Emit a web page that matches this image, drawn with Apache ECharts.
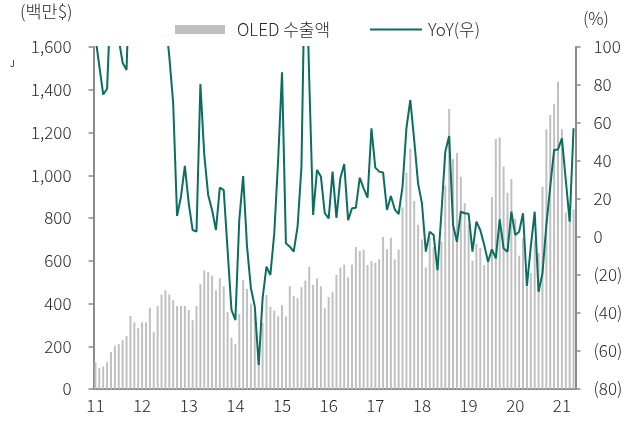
<!DOCTYPE html>
<html>
<head>
<meta charset="utf-8">
<script src="https://cdn.jsdelivr.net/npm/echarts@6/dist/echarts.min.js"></script>
<style>
html,body{margin:0;padding:0;background:#ffffff;}
#chart{width:638px;height:423px;}
</style>
</head>
<body>
<div id="chart"></div>
<script>
// ---- data (monthly, 2011.01 – 2021.04) ----
const startYear = 2011;
const monthCount = 124;
const categories = [];
for (let k = 0; k < monthCount; k++) {
  const y = startYear + Math.floor(k / 12);
  const m = (k % 12) + 1;
  categories.push(String(y).slice(2) + '.' + (m < 10 ? '0' + m : m));
}

// OLED export value (USD mn)
const exportValues = [
  125, 98, 106, 125, 172, 202, 210, 228, 248, 342, 312, 285,      // 2011
  312, 312, 380, 266, 388, 442, 462, 442, 416, 388, 388, 388,     // 2012
  369, 322, 388, 490, 555, 546, 530, 462, 518, 480, 360, 240,     // 2013
  210, 351, 510, 468, 400, 350, 175, 310, 440, 385, 367, 340,     // 2014
  392, 340, 482, 435, 425, 476, 507, 572, 487, 517, 480, 378,     // 2015
  430, 453, 534, 568, 582, 522, 582, 664, 645, 652, 580, 598,     // 2016
  591, 607, 711, 654, 708, 606, 653, 850, 1012, 1125, 880, 768,   // 2017
  700, 568, 710, 664, 605, 690, 952, 1310, 1076, 1104, 993, 869,  // 2018
  770, 600, 680, 660, 580, 608, 898, 1170, 1177, 1040, 918, 982,  // 2019
  797, 624, 705, 480, 543, 694, 637, 946, 1215, 1282, 1334, 1437, // 2020
  1215, 825, 810, 840                                             // 2021
];

// YoY growth (%), right axis
const yoyValues = [
  105, 90, 75, 78, 130, 120, 104, 91.7, 87.9, 150, 140, 130,
  150, 218, 258, 113, 126, 119, 115, 95, 70.4, 11.1, 21.2, 37.4,
  17.7, 3.7, 2.8, 80.5, 43.2, 22.1, 14.2, 3.7, 26, 24.7, -7, -38.4,
  -43.7, 8.9, 32.1, -5.1, -27, -36.7, -67.4, -32.3, -15.6, -20, 1.9, 40.5,
  86.7, -3.3, -5.1, -7.7, 5.4, 37, 160, 83, 11.6, 35.3, 31.8, 12.5,
  9.8, 34.4, 10.1, 30.9, 38.4, 8.9, 15.1, 15.4, 31.2, 25.6, 20.7, 57.2,
  36.5, 34.4, 34, 14.2, 21.6, 14.6, 12.1, 26.5, 57.2, 72.1, 51.1, 28.2,
  17.7, -7.7, 2.8, 1.1, -17.4, 12.5, 44.9, 53.2, 6.3, -2.5, 13.3, 12.5,
  12.2, -7.7, 8.1, 3.7, -4, -13, -6.5, -11.2, 9.3, -6, -7.7, 13.3,
  1.1, 2.8, 12.5, -25.8, -5.1, 13.3, -28.8, -19.1, 6.3, 26.5, 45.8, 46.1,
  51.9, 30, 8.1, 57.2
];

const xTickLabels = ['11','12','13','14','15','16','17','18','19','20','21'];
const seriesNames = ['OLED 수출액', 'YoY(우)'];
const leftUnit = '(백만$)';
const rightUnit = '(%)';

// ---- styling ----
const FONT = "'Noto Sans CJK KR','Noto Sans',sans-serif";
const TEXT = '#262626';
const AXIS = '#8c8c8c';
const BAR = '#c0c0c0';
const LINE = '#0a6e60';

const chart = echarts.init(document.getElementById('chart'), null, {renderer: 'canvas'});

const isYearStart = (i) => i % 12 === 0;

chart.setOption({
  animation: false,
  backgroundColor: '#ffffff',
  grid: {left: 93.5, right: 62.5, top: 47, bottom: 34, containLabel: false},
  legend: [
    {
      data: [seriesNames[0]], left: 170, top: 16,
      icon: 'rect', itemWidth: 50, itemHeight: 9,
      textStyle: {fontSize: 17, color: TEXT, fontFamily: FONT, fontWeight: 300, padding: [0, 0, 0, 7]}
    },
    {
      data: [seriesNames[1]], left: 365, top: 16,
      icon: 'rect', itemWidth: 52, itemHeight: 2,
      textStyle: {fontSize: 17, color: TEXT, fontFamily: FONT, fontWeight: 300, padding: [0, 0, 0, 1]}
    }
  ],
  graphic: {
    elements: [
      {type: 'text', left: 20, top: 3, style: {text: leftUnit, fontSize: 17.5, fill: TEXT, fontFamily: FONT, fontWeight: 300}},
      {type: 'text', left: 583, top: 10, style: {text: rightUnit, fontSize: 17, fill: TEXT, fontFamily: FONT, fontWeight: 300}},
      {type: 'text', left: 10, top: 59, style: {text: 'J', fontSize: 9, fill: TEXT, fontFamily: FONT}}
    ]
  },
  xAxis: {
    type: 'category',
    data: categories,
    boundaryGap: true,
    axisLine: {lineStyle: {color: AXIS, width: 2}},
    axisTick: {interval: isYearStart, length: 5, lineStyle: {color: AXIS, width: 1.5}},
    axisLabel: {
      interval: isYearStart,
      formatter: (v, i) => xTickLabels[Math.floor(i / 12)],
      margin: 8, color: TEXT, fontSize: 17, fontFamily: FONT, fontWeight: 300
    },
    splitLine: {show: false}
  },
  yAxis: [
    {
      type: 'value', position: 'left', min: 0, max: 1600, interval: 200,
      axisLine: {show: true, lineStyle: {color: AXIS, width: 2}},
      axisTick: {show: true, length: 5, lineStyle: {color: AXIS, width: 1.5}},
      axisLabel: {
        formatter: (v) => v.toLocaleString('en-US'),
        margin: 22, color: TEXT, fontSize: 17, fontFamily: FONT, fontWeight: 300
      },
      splitLine: {show: false}
    },
    {
      type: 'value', position: 'right', min: -80, max: 100, interval: 20,
      axisLine: {show: true, lineStyle: {color: AXIS, width: 2}},
      axisTick: {show: true, length: 5, lineStyle: {color: AXIS, width: 1.5}},
      axisLabel: {
        formatter: (v) => (v < 0 ? '(' + (-v) + ')' : String(v)),
        margin: 18, color: TEXT, fontSize: 17, fontFamily: FONT, fontWeight: 300
      },
      splitLine: {show: false}
    }
  ],
  series: [
    {
      name: seriesNames[0], type: 'bar', yAxisIndex: 0,
      data: exportValues, barWidth: 2,
      itemStyle: {color: BAR}
    },
    {
      name: seriesNames[1], type: 'line', yAxisIndex: 1,
      data: yoyValues, symbol: 'none', clip: true,
      lineStyle: {color: LINE, width: 2},
      itemStyle: {color: LINE}
    }
  ]
});
</script>
</body>
</html>
